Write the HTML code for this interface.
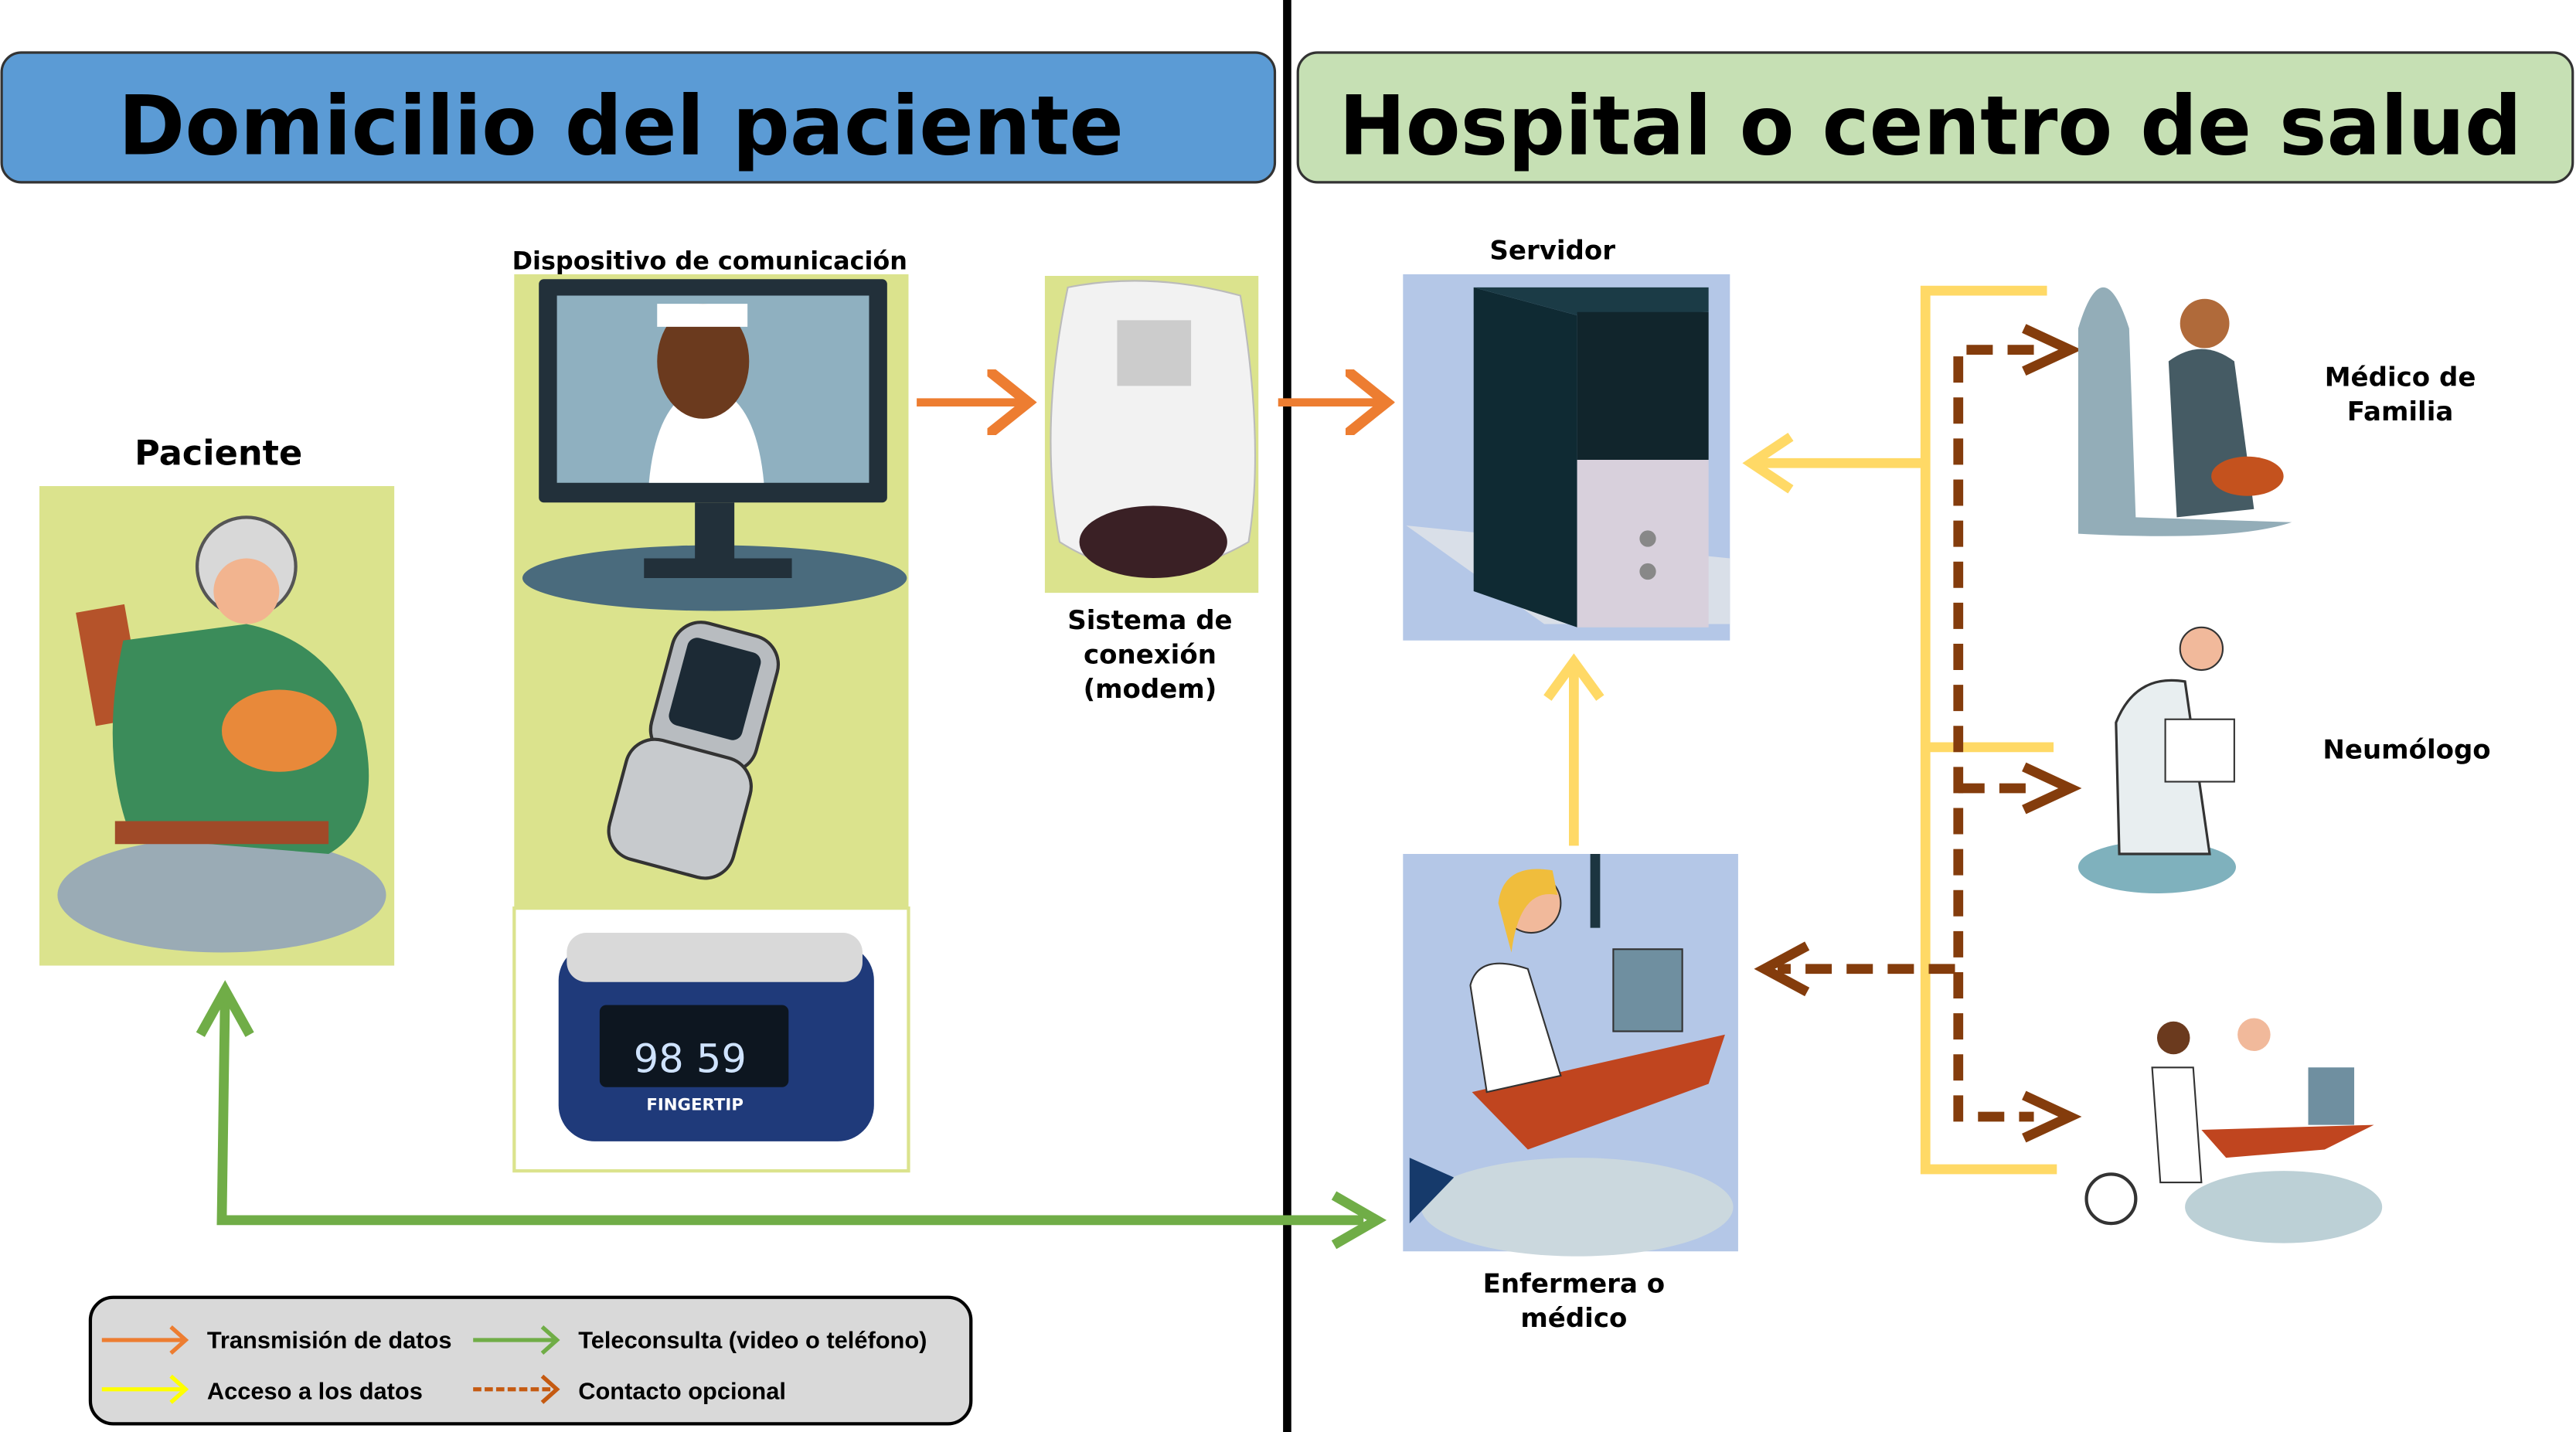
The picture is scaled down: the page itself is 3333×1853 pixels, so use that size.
<!DOCTYPE html>
<html><head><meta charset="utf-8"><style>html,body{margin:0;padding:0;background:#fff}svg{display:block}</style></head><body>
<svg width="3333" height="1853" viewBox="0 0 1568 872" preserveAspectRatio="none" xmlns="http://www.w3.org/2000/svg" font-family="'DejaVu Sans','Liberation Sans',sans-serif" font-weight="bold">
<defs>
<marker id="ao" markerWidth="6" markerHeight="8" refX="5" refY="4" orient="auto" markerUnits="strokeWidth"><path d="M0,0 L5,4 L0,8" fill="none" stroke="#ed7d31" stroke-width="1.3"/></marker>
</defs>
<!-- headers -->
<rect x="1" y="32" width="775" height="79" rx="12" fill="#5b9bd5" stroke="#333" stroke-width="1.5"/>
<text x="72" y="94" font-size="50" textLength="612" lengthAdjust="spacingAndGlyphs" fill="#000">Domicilio del paciente</text>
<rect x="790" y="32" width="776" height="79" rx="12" fill="#c6e0b4" stroke="#333" stroke-width="1.5"/>
<text x="815" y="94" font-size="50" textLength="720" lengthAdjust="spacingAndGlyphs" fill="#000">Hospital o centro de salud</text>
<rect x="781" y="0" width="5" height="872" fill="#000"/>

<!-- Paciente -->
<text x="133" y="283" font-size="21" text-anchor="middle">Paciente</text>
<rect x="24" y="296" width="216" height="292" fill="#dbe38d"/>
<ellipse cx="135" cy="545" rx="100" ry="35" fill="#9aabb5"/>
<rect x="52" y="370" width="30" height="70" fill="#b5532a" transform="rotate(-10 67 405)"/>
<path d="M75,390 Q60,460 80,510 L200,520 Q235,500 220,440 Q200,390 150,380 Z" fill="#3b8c5a"/>
<rect x="70" y="500" width="130" height="14" fill="#a04a28"/>
<circle cx="150" cy="345" r="30" fill="#d8d8d8" stroke="#555" stroke-width="2"/>
<circle cx="150" cy="360" r="20" fill="#f2b48f"/>
<ellipse cx="170" cy="445" rx="35" ry="25" fill="#e8893a"/>

<!-- Device panel -->
<text x="432" y="164" font-size="15" text-anchor="middle">Dispositivo de comunicación</text>
<rect x="313" y="167" width="240" height="386" fill="#dbe38d"/>
<rect x="328" y="170" width="212" height="136" rx="3" fill="#22303a"/>
<rect x="339" y="180" width="190" height="114" fill="#8fb0c0"/>
<path d="M395,294 Q400,240 430,235 Q460,240 465,294 Z" fill="#fff"/>
<ellipse cx="428" cy="220" rx="28" ry="35" fill="#6b3a1e"/>
<rect x="400" y="185" width="55" height="14" fill="#fff"/>
<ellipse cx="435" cy="352" rx="117" ry="20" fill="#4a6b7d"/>
<rect x="423" y="306" width="24" height="40" fill="#22303a"/>
<rect x="392" y="340" width="90" height="12" fill="#22303a"/>
<rect x="402" y="382" width="66" height="85" rx="18" fill="#b8bcc0" stroke="#333" stroke-width="2" transform="rotate(15 435 424)"/>
<rect x="412" y="392" width="46" height="55" rx="6" fill="#1c2a35" transform="rotate(15 435 420)"/>
<rect x="375" y="455" width="78" height="75" rx="18" fill="#c7cacd" stroke="#333" stroke-width="2" transform="rotate(15 414 492)"/>
<rect x="313" y="553" width="240" height="160" fill="#fff" stroke="#dbe38d" stroke-width="2"/>
<rect x="340" y="575" width="192" height="120" rx="22" fill="#1f3a7a"/>
<rect x="345" y="568" width="180" height="30" rx="12" fill="#d9d9d9"/>
<rect x="365" y="612" width="115" height="50" rx="4" fill="#0d1620"/>
<text x="420" y="653" font-size="24" fill="#cfe3ff" text-anchor="middle" font-weight="normal">98 59</text>
<text x="423" y="676" font-size="10" fill="#fff" text-anchor="middle">FINGERTIP</text>

<!-- Modem -->
<rect x="636" y="168" width="130" height="193" fill="#dbe38d"/>
<path d="M650,175 Q700,165 755,180 Q770,270 760,330 Q700,365 645,330 Q632,260 650,175 Z" fill="#f2f2f2" stroke="#bbb"/>
<ellipse cx="702" cy="330" rx="45" ry="22" fill="#3a2025"/>
<rect x="680" y="195" width="45" height="40" fill="#ccc"/>
<text x="700" y="383" font-size="16" text-anchor="middle">Sistema de</text>
<text x="700" y="404" font-size="16" text-anchor="middle">conexión</text>
<text x="700" y="425" font-size="16" text-anchor="middle">(modem)</text>

<!-- orange arrows -->
<line x1="558" y1="245" x2="626" y2="245" stroke="#ed7d31" stroke-width="5" marker-end="url(#ao)"/>
<line x1="778" y1="245" x2="844" y2="245" stroke="#ed7d31" stroke-width="5" marker-end="url(#ao)"/>

<!-- Server -->
<text x="945" y="158" font-size="16" text-anchor="middle">Servidor</text>
<rect x="854" y="167" width="199" height="223" fill="#b4c7e7"/>
<path d="M856,320 L940,380 L1053,380 L1053,340 Z" fill="#d9dfe8"/>
<path d="M897,175 L960,192 L960,382 L897,360 Z" fill="#0f2a33"/>
<path d="M897,175 L1040,175 L1040,190 L960,192 Z" fill="#1b3b46"/>
<rect x="960" y="190" width="80" height="90" fill="#11252c"/>
<rect x="960" y="280" width="80" height="102" fill="#d8d0dc"/>
<circle cx="1003" cy="328" r="5" fill="#888"/><circle cx="1003" cy="348" r="5" fill="#888"/>

<!-- yellow -->
<g stroke="#ffd966" stroke-width="6" fill="none">
<path d="M1246,177 L1172,177 L1172,712 L1252,712"/>
<line x1="1172" y1="455" x2="1250" y2="455"/>
<line x1="1172" y1="282" x2="1068" y2="282"/>
<path d="M1090,266 L1066,282 L1090,298"/>
<line x1="958" y1="515" x2="958" y2="405"/>
<path d="M942,425 L958,403 L974,425"/>
</g>

<!-- brown dashed -->
<g stroke="#843c0c" stroke-width="6" fill="none">
<path d="M1238,213 L1192,213 L1192,680 L1238,680" stroke-dasharray="16,9"/>
<line x1="1192" y1="480" x2="1238" y2="480" stroke-dasharray="16,9"/>
<line x1="1190" y1="590" x2="1082" y2="590" stroke-dasharray="16,9"/>
<path d="M1232,200 L1260,213 L1232,226"/>
<path d="M1232,467 L1260,480 L1232,493"/>
<path d="M1232,667 L1260,680 L1232,693"/>
<path d="M1100,576 L1074,590 L1100,604"/>
</g>

<!-- doctors -->
<path d="M1265,325 L1265,200 Q1280,150 1296,200 L1300,315 L1395,318 Q1360,330 1265,325 Z" fill="#93adb8"/>
<path d="M1320,220 Q1340,205 1360,220 L1372,310 L1325,315 Z" fill="#455b64"/>
<circle cx="1342" cy="197" r="15" fill="#b06a3a"/>
<ellipse cx="1368" cy="290" rx="22" ry="12" fill="#c4521e"/>
<text x="1461" y="235" font-size="16" text-anchor="middle">Médico de</text>
<text x="1461" y="256" font-size="16" text-anchor="middle">Familia</text>

<ellipse cx="1313" cy="528" rx="48" ry="16" fill="#7fb1bd"/>
<path d="M1290,520 L1288,440 Q1300,410 1330,415 L1345,520 Z" fill="#e8eef0" stroke="#333" stroke-width="1.5"/>
<circle cx="1340" cy="395" r="13" fill="#f1b99b" stroke="#333"/>
<rect x="1318" y="438" width="42" height="38" fill="#fff" stroke="#333"/>
<text x="1465" y="462" font-size="16" text-anchor="middle">Neumólogo</text>

<ellipse cx="1390" cy="735" rx="60" ry="22" fill="#bcd0d6"/>
<path d="M1340,688 L1445,685 L1415,700 L1355,705 Z" fill="#c0451f"/>
<rect x="1405" y="650" width="28" height="35" fill="#6f8fa0"/>
<circle cx="1323" cy="632" r="10" fill="#6b3a1e"/>
<circle cx="1372" cy="630" r="10" fill="#f1b99b"/>
<path d="M1310,650 L1335,650 L1340,720 L1315,720 Z" fill="#fff" stroke="#333"/>
<circle cx="1285" cy="730" r="15" fill="none" stroke="#333" stroke-width="2"/>

<!-- nurse -->
<rect x="854" y="520" width="204" height="242" fill="#b4c7e7"/>
<ellipse cx="960" cy="735" rx="95" ry="30" fill="#cbd8de"/>
<rect x="968" y="520" width="6" height="45" fill="#1c3540"/>
<path d="M896,665 L1050,630 L1040,660 L930,700 Z" fill="#c0451f"/>
<rect x="982" y="578" width="42" height="50" fill="#6f8fa0" stroke="#333"/>
<path d="M895,600 Q900,580 930,590 L950,655 L905,665 Z" fill="#fff" stroke="#333"/>
<circle cx="932" cy="550" r="18" fill="#f1b99b" stroke="#333"/>
<path d="M912,550 Q915,525 945,530 L948,545 Q925,540 920,580 Z" fill="#f0bd3c"/>
<path d="M858,705 L885,717 L858,745 Z" fill="#163a6b"/>
<text x="958" y="787" font-size="16" text-anchor="middle">Enfermera o</text>
<text x="958" y="808" font-size="16" text-anchor="middle">médico</text>

<!-- green -->
<g stroke="#70ad47" stroke-width="6" fill="none">
<path d="M137,606 L135,743 L830,743"/>
<path d="M122,630 L137,603 L152,630"/>
<path d="M812,728 L838,743 L812,758"/>
</g>

<!-- legend -->
<rect x="55" y="790" width="536" height="77" rx="14" fill="#d9d9d9" stroke="#000" stroke-width="2"/>
<g stroke-width="2.5" fill="none">
<line x1="62" y1="816" x2="112" y2="816" stroke="#ed7d31"/><path d="M104,808 L113,816 L104,824" stroke="#ed7d31"/>
<line x1="62" y1="846" x2="112" y2="846" stroke="#ffff00"/><path d="M104,838 L113,846 L104,854" stroke="#ffff00"/>
<line x1="288" y1="816" x2="338" y2="816" stroke="#70ad47"/><path d="M330,808 L339,816 L330,824" stroke="#70ad47"/>
<line x1="288" y1="846" x2="338" y2="846" stroke="#c55a11" stroke-dasharray="5,2"/><path d="M330,838 L339,846 L330,854" stroke="#c55a11"/>
</g>
<g font-family="'Liberation Sans',sans-serif" font-size="14.5">
<text x="126" y="821">Transmisión de datos</text>
<text x="126" y="852">Acceso a los datos</text>
<text x="352" y="821">Teleconsulta (video o teléfono)</text>
<text x="352" y="852">Contacto opcional</text>
</g>
</svg>
</body></html>
